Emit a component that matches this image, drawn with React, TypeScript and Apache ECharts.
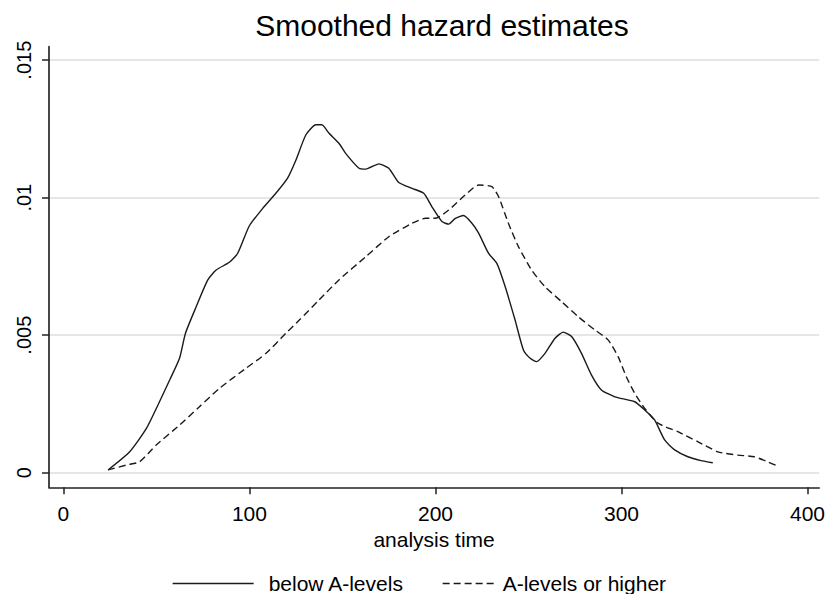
import React, { useEffect, useRef } from "react";
import * as echarts from "echarts";

const FONT = "'Liberation Sans', Arial, sans-serif";

const titleText = "Smoothed hazard estimates";
const xAxisName = "analysis time";
const seriesNames = ["below A-levels", "A-levels or higher"];
const xTicks = [0, 100, 200, 300, 400];
const yTicks = [0, 0.005, 0.01, 0.015];
const yTickLabels = ["0", ".005", ".01", ".015"];

const belowTime = [
  24.0, 35.6, 44.6, 50.8, 57.1, 62.4, 65.6, 71.4, 77.6, 82.1, 89.2, 93.7, 99.9, 107.1, 114.2, 120.5,
  125.0, 130.3, 135.7, 138.9, 142.8, 148.1, 151.7, 158.9, 162.5, 169.6, 174.9, 180.3, 187.4, 193.7,
  198.1, 203.5, 207.1, 210.7, 215.1, 219.6, 223.2, 228.5, 233.0, 237.5, 242.8, 247.3, 250.9, 254.4,
  258.9, 264.3, 268.7, 273.2, 278.5, 283.9, 289.2, 296.4, 307.1, 312.5, 317.8, 323.2, 328.6, 335.7,
  342.8, 349.1,
];
const belowHazard = [
  0.0001, 0.00076, 0.00161, 0.00246, 0.00337, 0.00416, 0.00507, 0.00604, 0.00701, 0.00737, 0.00765,
  0.00798, 0.00897, 0.00961, 0.01016, 0.01071, 0.01137, 0.01228, 0.01265, 0.01265, 0.01234, 0.01198,
  0.01161, 0.01107, 0.01104, 0.01123, 0.01107, 0.01055, 0.01034, 0.01016, 0.00967, 0.00913, 0.00904,
  0.00925, 0.00935, 0.00907, 0.00871, 0.00798, 0.00761, 0.00676, 0.00555, 0.00446, 0.00416, 0.00404,
  0.00434, 0.00489, 0.00511, 0.00495, 0.00434, 0.00355, 0.00301, 0.00276, 0.00258, 0.00228, 0.00192,
  0.00119, 0.00083, 0.00058, 0.00044, 0.00036,
];

const aboveTime = [
  24.0, 33.9, 41.0, 49.9, 62.4, 73.1, 83.9, 98.2, 108.9, 119.6, 126.8, 137.4, 148.1, 162.5, 174.9,
  187.4, 194.6, 200.0, 207.1, 216.0, 223.2, 230.3, 233.9, 239.2, 244.6, 251.7, 258.9, 267.8, 276.8,
  285.7, 292.8, 298.2, 302.6, 307.1, 312.5, 319.6, 330.3, 341.0, 351.8, 362.5, 371.4, 378.5, 383.9,
];
const aboveHazard = [
  0.0001, 0.00028, 0.0004, 0.00101, 0.00173, 0.0024, 0.00307, 0.0038, 0.00434, 0.00507, 0.00555,
  0.00628, 0.00701, 0.00785, 0.00858, 0.00907, 0.00925, 0.00925, 0.00955, 0.0101, 0.01046, 0.0104,
  0.01004, 0.00907, 0.00822, 0.00737, 0.00676, 0.00622, 0.00567, 0.00519, 0.00483, 0.00422, 0.00349,
  0.00289, 0.00234, 0.0018, 0.00149, 0.00113, 0.00076, 0.00064, 0.00058, 0.0004, 0.00024,
];

export default function App() {
  const ref = useRef<HTMLDivElement>(null);
  useEffect(() => {
    if (!ref.current) return;
    const chart = echarts.init(ref.current, undefined, { renderer: "svg" });
    const lineColor = "#1a1a1a";
    const legendCommon = {
      top: 568,
      itemHeight: 14,
      itemStyle: { opacity: 0, borderWidth: 0 },
      lineStyle: { width: 1.3 },
    };
    chart.setOption({
      animation: false,
      backgroundColor: "#ffffff",
      textStyle: { fontFamily: FONT },
      title: {
        text: titleText,
        left: 437,
        textAlign: "center",
        top: 5,
        textStyle: { fontFamily: FONT, fontSize: 30, fontWeight: "normal", color: "#000" },
      },
      legend: [
        {
          ...legendCommon,
          data: [seriesNames[0]],
          left: 167,
          itemWidth: 81,
          textStyle: { fontFamily: FONT, fontSize: 21, color: "#000", padding: [0, 0, 0, 10] },
        },
        {
          ...legendCommon,
          data: [seriesNames[1]],
          left: 437,
          itemWidth: 55,
          textStyle: { fontFamily: FONT, fontSize: 21, color: "#000", padding: [0, 0, 0, 0] },
        },
      ],
      grid: { left: 49, right: 6.3, top: 46.7, bottom: 106.7, containLabel: false },
      xAxis: {
        type: "value",
        min: -7.77,
        max: 406.3,
        name: xAxisName,
        nameLocation: "middle",
        nameGap: 39,
        nameTextStyle: { fontFamily: FONT, fontSize: 21, color: "#000" },
        axisLine: { show: true, onZero: false, lineStyle: { color: "#222", width: 1.6 } },
        axisTick: { show: true, length: 7, customValues: xTicks, lineStyle: { color: "#222", width: 1.5 } },
        axisLabel: {
          customValues: xTicks,
          margin: 16,
          fontFamily: FONT,
          fontSize: 21,
          color: "#000",
          showMinLabel: true,
          showMaxLabel: true,
        },
        splitLine: { show: false },
      },
      yAxis: {
        type: "value",
        min: -0.000531,
        max: 0.01549,
        axisLine: { show: true, onZero: false, lineStyle: { color: "#333", width: 1.8 } },
        axisTick: { show: true, length: 7, customValues: yTicks, lineStyle: { color: "#222", width: 1.5 } },
        axisLabel: {
          customValues: yTicks,
          rotate: 90,
          margin: 15,
          fontFamily: FONT,
          fontSize: 20,
          color: "#000",
          formatter: (v: number) => {
            const i = yTicks.findIndex((t) => Math.abs(t - v) < 1e-9);
            return i >= 0 ? yTickLabels[i] : "";
          },
        },
        splitLine: { show: true, lineStyle: { color: "#e6e6e6", width: 2 } },
      },
      series: [
        {
          name: seriesNames[0],
          type: "line",
          data: belowTime.map((t, i) => [t, belowHazard[i]]),
          symbol: "none",
          smooth: 0.2,
          lineStyle: { color: lineColor, width: 1.4, type: "solid" },
          itemStyle: { color: lineColor },
        },
        {
          name: seriesNames[1],
          type: "line",
          data: aboveTime.map((t, i) => [t, aboveHazard[i]]),
          symbol: "none",
          smooth: 0.2,
          lineStyle: { color: lineColor, width: 1.4, type: [7, 4] },
          itemStyle: { color: lineColor },
        },
      ],
    });
    return () => chart.dispose();
  }, []);
  return (
    <div
      ref={ref}
      style={{ position: "fixed", left: 0, top: 0, width: 828, height: 594, background: "#fff" }}
    />
  );
}
